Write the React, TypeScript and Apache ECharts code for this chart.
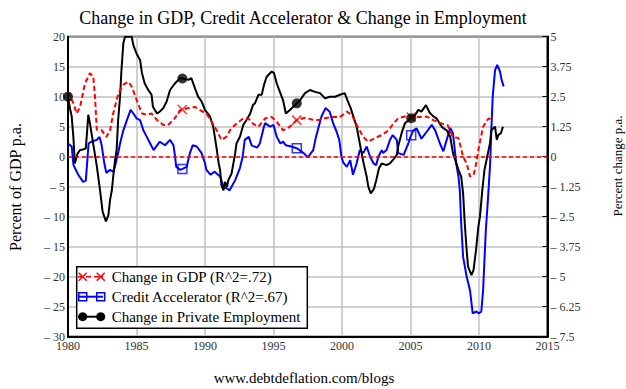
import React, { useEffect, useRef } from 'react';
import * as echarts from 'echarts';

// Change in GDP, % of GDP p.a. (left axis)
const gdpChange: [number, number][] = [
  [1980.0, 10.8], [1980.4, 8.9], [1980.63, 7.2], [1980.88, 8.3], [1981.24, 12.2], [1981.6, 13.9],
  [1981.85, 13.3], [1981.97, 10.0], [1982.1, 4.5], [1982.46, 4.4], [1982.8, 3.3], [1983.07, 4.4],
  [1983.3, 7.2], [1983.68, 10.6], [1984.04, 12.0], [1984.4, 12.5], [1984.65, 11.7], [1985.0, 9.5],
  [1985.4, 7.2], [1985.75, 7.0], [1986.1, 7.2], [1986.5, 6.1], [1986.96, 5.3], [1987.3, 5.3],
  [1987.7, 6.1], [1988.2, 7.8], [1988.8, 8.1], [1989.27, 8.3], [1989.6, 7.8], [1990.1, 7.2],
  [1990.5, 5.8], [1990.85, 4.4], [1991.2, 2.8], [1991.55, 3.3], [1991.9, 4.7], [1992.3, 5.5],
  [1992.8, 6.4], [1993.16, 6.4], [1993.5, 5.5], [1993.9, 5.0], [1994.4, 6.4], [1994.87, 6.6],
  [1995.24, 5.8], [1995.7, 4.4], [1996.2, 5.0], [1996.7, 6.1], [1997.3, 6.5], [1997.8, 6.2],
  [1998.27, 6.1], [1998.76, 6.4], [1999.25, 6.6], [1999.85, 6.6], [2000.35, 7.5], [2000.7, 7.0],
  [2001.07, 5.3], [2001.55, 3.3], [2001.92, 2.5], [2002.4, 3.1], [2002.9, 3.6], [2003.4, 4.4],
  [2003.75, 5.5], [2004.1, 6.4], [2004.6, 6.7], [2005.2, 6.6], [2005.7, 6.6], [2006.2, 6.7],
  [2006.67, 6.1], [2007.3, 5.5], [2007.7, 5.3], [2008.1, 3.3], [2008.5, 3.1], [2008.84, 0.0],
  [2009.1, -1.1], [2009.34, -3.3], [2009.6, -3.1], [2009.8, -1.1], [2009.95, 1.1], [2010.1, 2.8],
  [2010.3, 5.0], [2010.7, 6.4], [2011.0, 6.1],
];

// Credit accelerator, % of GDP p.a. (left axis)
const creditAccelerator: [number, number][] = [
  [1980.0, 2.2], [1980.27, 1.7], [1980.4, -1.4], [1980.75, -3.0], [1981.1, -4.2], [1981.3, -4.0],
  [1981.4, -1.0], [1981.5, 2.2], [1981.7, 2.5], [1982.1, 2.8], [1982.3, 3.3], [1982.46, 1.9],
  [1982.65, -1.1], [1982.8, -2.7], [1983.07, -2.2], [1983.3, -2.5], [1983.4, -1.9], [1983.66, 0.6],
  [1983.8, 2.2], [1984.04, 4.4], [1984.3, 6.1], [1984.57, 7.8], [1984.77, 7.2], [1985.0, 6.4],
  [1985.26, 6.1], [1985.5, 4.4], [1985.75, 3.3], [1986.0, 2.2], [1986.25, 1.1], [1986.5, 1.9],
  [1986.7, 2.5], [1987.08, 1.9], [1987.45, 2.8], [1987.7, 1.9], [1987.8, 0.3], [1987.9, -1.7],
  [1988.2, -2.2], [1988.66, -1.7], [1988.9, 0.6], [1989.1, 1.9], [1989.4, 1.7], [1989.75, 0.6],
  [1990.0, -1.1], [1990.1, -2.2], [1990.4, -3.0], [1990.7, -2.5], [1991.1, -3.3], [1991.35, -5.0],
  [1991.6, -5.3], [1991.8, -5.6], [1992.2, -3.9], [1992.55, -1.9], [1992.75, 0.0], [1992.9, 2.8],
  [1993.2, 3.3], [1993.4, 1.9], [1993.8, 1.5], [1994.0, 2.2], [1994.3, 5.0], [1994.4, 5.6],
  [1994.75, 5.0], [1995.0, 5.3], [1995.24, 3.3], [1995.5, 2.2], [1995.7, 2.5], [1995.9, 1.9],
  [1996.3, 1.7], [1996.7, 1.4], [1997.2, 0.6], [1997.5, -0.1], [1997.9, 1.1], [1998.1, 3.3],
  [1998.5, 6.7], [1998.8, 8.1], [1999.1, 7.5], [1999.35, 5.6], [1999.6, 4.2], [1999.8, 2.8],
  [1999.96, 0.0], [2000.1, -1.0], [2000.35, -1.7], [2000.6, -0.6], [2000.8, -3.0], [2001.07, -1.1],
  [2001.3, 1.1], [2001.55, 0.6], [2001.8, 1.7], [2002.05, 0.0], [2002.3, -1.1], [2002.5, -1.4],
  [2002.65, 0.0], [2002.9, 1.1], [2003.0, 0.6], [2003.25, 1.1], [2003.5, 2.8], [2003.7, 3.6],
  [2004.0, 2.8], [2004.1, 0.6], [2004.5, 0.3], [2004.84, 2.2], [2005.0, 3.3], [2005.2, 4.4],
  [2005.45, 4.7], [2005.8, 3.0], [2006.2, 4.2], [2006.55, 5.3], [2006.8, 4.4], [2007.15, 2.2],
  [2007.4, 0.9], [2007.64, 2.8], [2007.9, 4.8], [2008.1, 3.9], [2008.35, -1.3], [2008.5, -3.3],
  [2008.6, -5.6], [2008.7, -11.1], [2008.84, -16.7], [2009.1, -20.0], [2009.34, -22.2], [2009.54, -26.1],
  [2009.8, -25.8], [2010.0, -26.1], [2010.17, -25.8], [2010.3, -22.2], [2010.4, -17.2], [2010.5, -12.2],
  [2010.65, -7.2], [2010.8, -1.7], [2010.85, 1.1], [2010.9, 4.4], [2011.0, 10.0], [2011.17, 14.4],
  [2011.33, 15.3], [2011.53, 14.2], [2011.65, 12.8], [2011.8, 11.7],
];

// Change in private employment, % p.a. (right axis)
const employmentChange: [number, number][] = [
  [1980.0, 2.5], [1980.15, 2.0], [1980.27, 1.68], [1980.4, 0.75], [1980.5, -0.28], [1980.7, 0.13],
  [1980.88, 0.28], [1981.1, 0.3], [1981.3, 0.35], [1981.4, 1.1], [1981.48, 1.75], [1981.6, 1.4],
  [1981.85, 0.5], [1982.1, -0.38], [1982.34, -1.4], [1982.53, -2.3], [1982.77, -2.7], [1982.95, -2.43],
  [1983.07, -1.8], [1983.2, -1.4], [1983.3, -0.83], [1983.43, -0.15], [1983.55, 0.28], [1983.66, 1.53],
  [1983.8, 2.5], [1983.9, 3.6], [1984.04, 4.73], [1984.16, 5.0], [1984.4, 5.0], [1984.65, 5.0],
  [1984.77, 4.65], [1985.0, 4.3], [1985.26, 4.03], [1985.4, 3.48], [1985.6, 3.05], [1985.86, 2.78],
  [1986.1, 2.58], [1986.2, 2.08], [1986.5, 1.8], [1986.7, 1.88], [1986.96, 2.03], [1987.2, 2.3],
  [1987.45, 2.78], [1987.8, 3.05], [1988.2, 3.28], [1988.8, 3.2], [1989.0, 3.28], [1989.27, 2.85],
  [1989.5, 2.5], [1989.75, 2.3], [1990.0, 1.95], [1990.36, 1.68], [1990.6, 1.25], [1990.84, 0.38],
  [1991.0, -0.28], [1991.1, -0.55], [1991.2, -1.18], [1991.35, -1.4], [1991.46, -1.05], [1991.6, -1.25],
  [1991.7, -0.98], [1991.94, -0.7], [1992.2, 0.13], [1992.3, 0.55], [1992.55, 0.83], [1992.8, 1.33],
  [1993.03, 1.53], [1993.3, 1.8], [1993.5, 2.15], [1993.65, 2.23], [1993.9, 2.58], [1994.14, 2.58],
  [1994.3, 2.98], [1994.5, 3.33], [1994.87, 3.55], [1995.04, 3.48], [1995.24, 3.05], [1995.5, 2.65],
  [1995.7, 2.35], [1995.9, 1.8], [1996.2, 1.95], [1996.57, 2.15], [1996.93, 2.35], [1997.3, 2.65],
  [1997.66, 2.78], [1998.03, 2.7], [1998.4, 2.65], [1998.76, 2.43], [1999.1, 2.5], [1999.5, 2.5],
  [1999.85, 2.58], [2000.2, 2.65], [2000.4, 2.35], [2000.6, 2.08], [2000.8, 1.73], [2001.07, 1.25],
  [2001.3, 0.55], [2001.55, -0.2], [2001.8, -0.83], [2001.92, -1.25], [2002.1, -1.53], [2002.34, -1.33],
  [2002.5, -0.98], [2002.7, -0.48], [2002.9, -0.28], [2003.25, -0.35], [2003.5, -0.28], [2003.8, -0.08],
  [2004.0, 0.08], [2004.1, 0.43], [2004.35, 0.98], [2004.6, 1.4], [2005.0, 1.58], [2005.33, 1.73],
  [2005.57, 1.95], [2005.8, 1.88], [2006.13, 2.15], [2006.4, 1.83], [2006.67, 1.68], [2006.9, 1.6],
  [2007.3, 1.23], [2007.64, 1.1], [2007.9, 0.83], [2008.1, 0.15], [2008.26, -0.13], [2008.5, -0.55],
  [2008.7, -0.83], [2008.84, -1.53], [2008.96, -2.78], [2009.1, -3.9], [2009.2, -4.58], [2009.45, -4.93],
  [2009.6, -4.73], [2009.78, -3.9], [2009.95, -2.93], [2010.07, -2.5], [2010.24, -1.4], [2010.4, -0.55],
  [2010.6, 0.0], [2010.8, 0.55], [2010.9, 1.1], [2011.17, 1.25], [2011.3, 0.7], [2011.4, 0.9],
  [2011.6, 0.98], [2011.75, 1.25],
];

const markerYears = [1988.35, 1996.7, 2005.05];
const employmentMarkerYears = [1980.0, 1988.35, 1996.7, 2005.05];

const titleText = 'Change in GDP, Credit Accelerator & Change in Employment';
const leftAxisTitle = 'Percent of GDP p.a.';
const rightAxisTitle = 'Percent change p.a.';
const footerText = 'www.debtdeflation.com/blogs';
const legendLabels = [
  'Change in GDP (R^2=.72)',
  'Credit Accelerator (R^2=.67)',
  'Change in Private Employment',
];

function valueAt(series: [number, number][], year: number): number {
  for (let i = 0; i < series.length - 1; i++) {
    const [x0, y0] = series[i];
    const [x1, y1] = series[i + 1];
    if (year >= x0 && year <= x1) {
      return y0 + ((y1 - y0) * (year - x0)) / (x1 - x0);
    }
  }
  return series[year < series[0][0] ? 0 : series.length - 1][1];
}

const RED = '#ff0000';
const BLUE = '#0000ff';
const BLACK = '#000000';
const SERIF_FAMILY = 'Liberation Serif';
const SERIF = "'Liberation Serif', serif";

export default function App() {
  const ref = useRef<HTMLDivElement>(null);

  useEffect(() => {
    const chart = echarts.init(ref.current!, null, { renderer: 'svg' });
    const fmt = (v: number) => (v < 0 ? '\u2013 ' + Math.abs(v) : String(v));

    const legendX1 = 78;
    const legendX2 = 103;
    const m1 = 82.7;
    const m2 = 100.7;
    const rows = [276.7, 296.7, 316.7];
    const Z = 100;

    const xMark = (cx: number, cy: number) => [
      { type: 'line', z: Z + 2, shape: { x1: cx - 4, y1: cy - 4, x2: cx + 4, y2: cy + 4 }, style: { stroke: RED, lineWidth: 1.5 } },
      { type: 'line', z: Z + 2, shape: { x1: cx - 4, y1: cy + 4, x2: cx + 4, y2: cy - 4 }, style: { stroke: RED, lineWidth: 1.5 } },
    ];

    const legendGraphics: any[] = [
      { type: 'rect', z: Z, shape: { x: 76.7, y: 266.7, width: 230.6, height: 61.6 }, style: { fill: '#fff', stroke: '#000', lineWidth: 1.5 } },
      { type: 'line', z: Z + 1, shape: { x1: legendX1, y1: rows[0], x2: legendX2, y2: rows[0] }, style: { stroke: RED, lineWidth: 1.5, lineDash: [5, 3] } },
      ...xMark(m1, rows[0]),
      ...xMark(m2, rows[0]),
      { type: 'line', z: Z + 1, shape: { x1: legendX1, y1: rows[1], x2: legendX2, y2: rows[1] }, style: { stroke: BLUE, lineWidth: 2 } },
      { type: 'rect', z: Z + 2, shape: { x: m1 - 4, y: rows[1] - 4, width: 8, height: 8 }, style: { fill: 'none', stroke: BLUE, lineWidth: 1.5 } },
      { type: 'rect', z: Z + 2, shape: { x: m2 - 4, y: rows[1] - 4, width: 8, height: 8 }, style: { fill: 'none', stroke: BLUE, lineWidth: 1.5 } },
      { type: 'line', z: Z + 1, shape: { x1: legendX1, y1: rows[2], x2: legendX2, y2: rows[2] }, style: { stroke: BLACK, lineWidth: 2 } },
      { type: 'circle', z: Z + 2, shape: { cx: m1, cy: rows[2], r: 4.5 }, style: { fill: BLACK } },
      { type: 'circle', z: Z + 2, shape: { cx: m2, cy: rows[2], r: 4.5 }, style: { fill: BLACK } },
      ...legendLabels.map((t, i) => ({
        type: 'text',
        z: Z + 2,
        x: 111.7,
        y: rows[i],
        style: { text: t, font: `15px ${SERIF}`, fill: '#000', textAlign: 'left', textVerticalAlign: 'middle', align: 'left', verticalAlign: 'middle' },
      })),
    ];

    const tickLabel = { fontFamily: SERIF_FAMILY, fontSize: 12, color: '#333', margin: 3 };

    chart.setOption({
      animation: false,
      backgroundColor: '#ffffff',
      textStyle: { fontFamily: SERIF_FAMILY },
      grid: { left: 68, right: 78.5, top: 36.7, bottom: 52.3, show: true, borderColor: '#000', borderWidth: 2, backgroundColor: 'transparent' },
      xAxis: {
        type: 'value',
        min: 1980,
        max: 2015,
        interval: 5,
        axisLine: { show: true, onZero: false, lineStyle: { color: '#000', width: 2 } },
        axisTick: { show: false },
        splitLine: { show: true, lineStyle: { color: '#c0c0c0', width: 1.5 } },
        axisLabel: { ...tickLabel, formatter: (v: number) => String(v), showMinLabel: true, showMaxLabel: true },
      },
      yAxis: [
        {
          type: 'value',
          position: 'left',
          min: -30,
          max: 20,
          interval: 5,
          axisLine: { show: true, onZero: false, lineStyle: { color: '#000', width: 2 } },
          axisTick: { show: false },
          splitLine: { show: true, lineStyle: { color: '#c0c0c0', width: 1.5 } },
          axisLabel: { ...tickLabel, formatter: fmt },
        },
        {
          type: 'value',
          position: 'right',
          min: -7.5,
          max: 5,
          interval: 1.25,
          axisLine: { show: true, onZero: false, lineStyle: { color: '#000', width: 2 } },
          axisTick: { show: true, inside: true, length: 5, lineStyle: { color: '#000', width: 1 } },
          splitLine: { show: false },
          axisLabel: { ...tickLabel, formatter: fmt },
        },
      ],
      series: [
        {
          name: 'Change in GDP',
          type: 'line',
          yAxisIndex: 0,
          data: gdpChange,
          symbol: 'none',
          lineStyle: { color: RED, width: 2, type: [5, 3] },
          z: 3,
          markLine: {
            silent: true,
            symbol: ['none', 'none'],
            label: { show: false },
            lineStyle: { color: RED, width: 1.5, type: [4, 3] },
            data: [{ yAxis: 0 }],
          },
        },
        {
          name: 'Credit Accelerator',
          type: 'line',
          yAxisIndex: 0,
          data: creditAccelerator,
          symbol: 'none',
          lineStyle: { color: BLUE, width: 2 },
          z: 2,
        },
        {
          name: 'Change in Private Employment',
          type: 'line',
          yAxisIndex: 1,
          data: employmentChange,
          symbol: 'none',
          lineStyle: { color: BLACK, width: 2 },
          z: 2,
        },
        {
          type: 'scatter',
          yAxisIndex: 0,
          data: markerYears.map((y) => [y, valueAt(gdpChange, y)]),
          symbol: 'path://M0,0L10,10M10,0L0,10',
          symbolSize: 9,
          itemStyle: { color: 'none', borderColor: RED, borderWidth: 1.5 },
          z: 4,
        },
        {
          type: 'scatter',
          yAxisIndex: 0,
          data: markerYears.map((y) => [y, valueAt(creditAccelerator, y)]),
          symbol: 'rect',
          symbolSize: 9,
          itemStyle: { color: 'rgba(0,0,0,0)', borderColor: BLUE, borderWidth: 1.5 },
          z: 4,
        },
        {
          type: 'scatter',
          yAxisIndex: 1,
          data: employmentMarkerYears.map((y) => [y, valueAt(employmentChange, y)]),
          symbol: 'circle',
          symbolSize: 10,
          itemStyle: { color: BLACK },
          z: 4,
        },
      ],
      graphic: [
        {
          type: 'text',
          x: 303,
          y: 18,
          style: { text: titleText, font: `18px ${SERIF}`, fill: '#000', textAlign: 'center', textVerticalAlign: 'middle', align: 'center', verticalAlign: 'middle' },
        },
        {
          type: 'text',
          x: 15,
          y: 187,
          rotation: Math.PI / 2,
          style: { text: leftAxisTitle, font: `16px ${SERIF}`, fill: '#000', textAlign: 'center', textVerticalAlign: 'middle', align: 'center', verticalAlign: 'middle' },
        },
        {
          type: 'text',
          x: 617,
          y: 166,
          rotation: Math.PI / 2,
          style: { text: rightAxisTitle, font: `13px ${SERIF}`, fill: '#000', textAlign: 'center', textVerticalAlign: 'middle', align: 'center', verticalAlign: 'middle' },
        },
        {
          type: 'text',
          x: 304,
          y: 378,
          style: { text: footerText, font: `15px ${SERIF}`, fill: '#000', textAlign: 'center', textVerticalAlign: 'middle', align: 'center', verticalAlign: 'middle' },
        },
        ...legendGraphics,
      ],
    });

    return () => {
      chart.dispose();
    };
  }, []);

  return <div ref={ref} style={{ position: 'absolute', left: 0, top: 0, width: 626, height: 389 }} />;
}
